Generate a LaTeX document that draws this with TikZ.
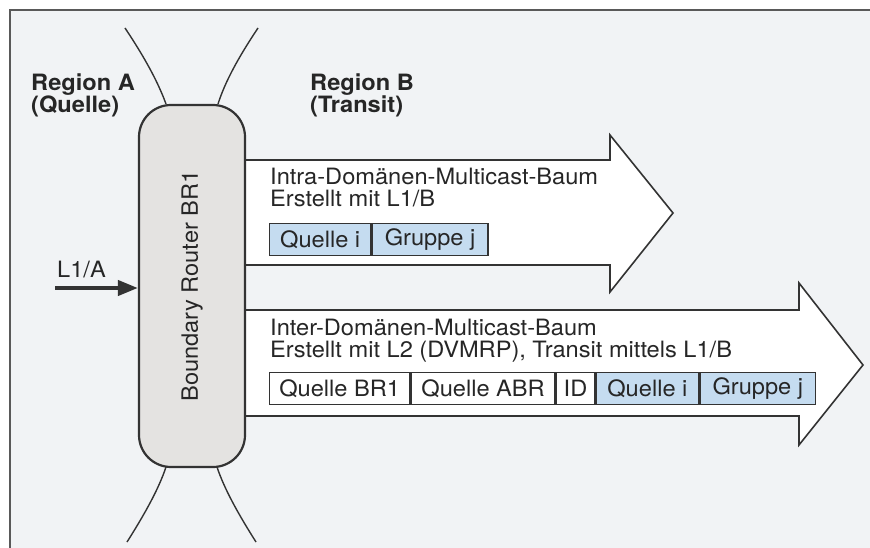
\documentclass[tikz,border=0pt]{standalone}
\usepackage{fontspec}
\setmainfont[FakeStretch=1.05]{TeX Gyre Heros}
\usetikzlibrary{arrows.meta}
\definecolor{bgc}{HTML}{F1F3F5}
\definecolor{routerc}{HTML}{E4E3E1}
\definecolor{bluec}{HTML}{C5DCF0}
\definecolor{linec}{HTML}{333333}
\tikzset{
  txt/.style={font=\fontsize{22.5}{24}\selectfont, text=black!85, inner sep=0pt, anchor=base west},
  boldtxt/.style={font=\fontsize{22.5}{24}\selectfont\bfseries, text=black!85, inner sep=0pt, anchor=base west},
  fld/.style={draw=linec, line width=1.4pt, minimum height=32pt, inner sep=0pt, font=\fontsize{22.5}{24}\selectfont, text=black!85, anchor=north west},
  bigarrow/.style={draw=linec, line width=1.6pt, fill=white, line join=miter},
  antenna/.style={draw=linec, line width=1.4pt},
}
\begin{document}
\begin{tikzpicture}[x=1pt,y=-1pt]
\useasboundingbox (0,0) rectangle (870,548);
\fill[white] (0,0) rectangle (870,548);
\fill[bgc] (10,10) rectangle (870,548);
\draw[gray!70!black, line width=1.2pt] (10,548) -- (10,10) -- (870,10);

% antennas
\coordinate (a1) at (125,28); \coordinate (a2) at (258,28);
\coordinate (a3) at (127,542); \coordinate (a4) at (256,542);
\draw[antenna] (a1) .. controls (145,58) and (158,82) .. (166,104);
\draw[antenna] (a2) .. controls (238,58) and (225,82) .. (218,104);
\draw[antenna] (a3) .. controls (146,512) and (159,488) .. (166,467);
\draw[antenna] (a4) .. controls (237,512) and (224,488) .. (217,467);

% arrows
\draw[bigarrow] (245,160) -- (610,160) -- (610,135) -- (673,213) -- (610,292) -- (610,265) -- (245,265);
\draw[bigarrow] (245,310) -- (799,310) -- (799,283) -- (863,365) -- (799,445) -- (799,416) -- (245,416);

% router
\node[draw=linec, line width=2.2pt, fill=routerc, rounded corners=32pt, minimum width=106pt, minimum height=362pt, inner sep=0pt] (br) at (192,286) {};
\node[rotate=90, font=\fontsize{22.5}{24}\selectfont, text=black!85] (brl) at (br.center) {Boundary Router BR1};

% region labels
\node[boldtxt] (ra) at (31,91) {Region A};
\node[boldtxt] (raq) at (31,113) {(Quelle)};
\node[boldtxt] (rb) at (310,91) {Region B};
\node[boldtxt] (rbt) at (310,113) {(Transit)};

% L1/A
\node[txt] (l1a) at (57,277) {L1/A};
\coordinate (l1s) at (55,288);
\draw[line width=4pt, linec, -{Triangle[length=20pt,width=15pt]}] (l1s) -- (br.west |- l1s);

% upper arrow texts
\node[txt] (t1) at (270,185) {Intra-Domänen-Multicast-Baum};
\node[txt] (t2) at (270,207) {Erstellt mit L1/B};
\node[fld, fill=bluec, minimum width=101pt] (u1) at (269,223) {Quelle i};
\node[fld, fill=bluec, minimum width=116pt] (u2) at (u1.north east) {Gruppe j};

% lower arrow texts
\node[txt] (t3) at (270,335) {Inter-Domänen-Multicast-Baum};
\node[txt] (t4) at (270,357) {Erstellt mit L2 (DVMRP), Transit mittels L1/B};
\node[fld, fill=white, minimum width=140pt] (l1) at (269,372) {Quelle BR1};
\node[fld, fill=white, minimum width=144pt] (l2) at (l1.north east) {Quelle ABR};
\node[fld, fill=white, minimum width=38pt] (l3) at (l2.north east) {ID};
\node[fld, fill=bluec, minimum width=103pt] (l4) at (l3.north east) {Quelle i};
\node[fld, fill=bluec, minimum width=115pt] (l5) at (l4.north east) {Gruppe j};
\end{tikzpicture}
\end{document}
